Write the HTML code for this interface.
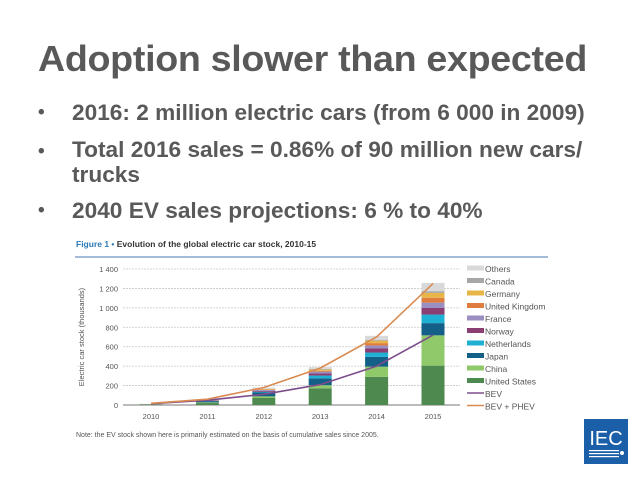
<!DOCTYPE html>
<html><head><meta charset="utf-8"><style>
body{margin:0;width:638px;height:479px;background:#fff;font-family:"Liberation Sans",sans-serif;position:relative;overflow:hidden}
.t{position:absolute;left:38px;top:38px;font-size:36px;font-weight:bold;color:#595959;letter-spacing:-0.3px;transform:scaleX(1.045);transform-origin:0 0;white-space:nowrap}
.b{position:absolute;left:38px;font-size:22px;font-weight:bold;color:#595959;white-space:nowrap}
.b span{position:absolute;left:0;font-size:19px;top:2px}
.b div{margin-left:34px;transform:scaleX(1.03);transform-origin:0 0}
</style></head><body>
<div class="t">Adoption slower than expected</div>
<div class="b" style="top:100px"><span>•</span><div>2016: 2 million electric cars (from 6 000 in 2009)</div></div>
<div class="b" style="top:137px;line-height:25px"><span>•</span><div>Total 2016 sales = 0.86% of 90 million new cars/<br>trucks</div></div>
<div class="b" style="top:198px"><span>•</span><div>2040 EV sales projections: 6 % to 40%</div></div>
<svg id="c" width="638" height="479" style="position:absolute;left:0;top:0"></svg>
<script>
const years=["2010","2011","2012","2013","2014","2015"];
const seriesNames=["United States","China","Japan","Netherlands","Norway","France","United Kingdom","Germany","Canada","Others"];
const colors=["#4e8a4f","#8fc96a","#135f87","#1fb1d4","#8a3e72","#9a8fc0","#de7d3d","#e8b547","#a7a7a7","#d9d9d9"];
const us=[4,20,72,172,290,405];
const china=[1,7,17,32,105,312];
const japan=[2,13,40,70,100,126];
const neth=[0,2,7,29,45,88];
const norway=[1,4,10,21,42,68];
const france=[1,3,10,20,30,55];
const uk=[0,1,3,8,25,50];
const germany=[1,2,6,13,25,50];
const canada=[0,1,2,5,10,18];
const others=[1,5,13,20,40,85];
const bev=[14,50,110,210,400,720];
const bevPhev=[17,60,180,380,700,1250];
const yTicks=[0,200,400,600,800,1000,1200,1400];
const yTickLabels=["0","200","400","600","800","1 000","1 200","1 400"];
const stacks=[us,china,japan,neth,norway,france,uk,germany,canada,others];
const svg=document.getElementById('c');const NS="http://www.w3.org/2000/svg";
function y(v){return 405-v*136/1400}
function x(i){return 151+i*56.4}
function mk(t,a,p){const e=document.createElementNS(NS,t);for(const k in a)e.setAttribute(k,a[k]);(p||svg).appendChild(e);return e}
let e=mk('text',{x:76,y:247,'font-size':8.5,'font-weight':'bold',fill:'#333'});e.innerHTML='<tspan fill="#2a7ab8">Figure 1 •</tspan> Evolution of the global electric car stock, 2010-15';

e=mk('line',{x1:75,x2:548,y1:257,y2:257,stroke:'#6f93c2','stroke-width':1.2});

yTicks.forEach((t,i)=>{
 if(t>0){e=mk('line',{x1:123,x2:460,y1:y(t),y2:y(t),stroke:'#c8c8c8','stroke-dasharray':'2,1','stroke-width':0.8});}
 e=mk('text',{x:118,y:y(t)+3,'font-size':7.5,'text-anchor':'end',fill:'#555'});e.textContent=yTickLabels[i];
 
});
e=mk('line',{x1:123,x2:460,y1:405,y2:405,stroke:'#777','stroke-width':1});
e=mk('text',{x:0,y:0,'font-size':7.5,fill:'#555','text-anchor':'middle',transform:'translate(84,337) rotate(-90)'});e.textContent='Electric car stock (thousands)';

years.forEach((yr,i)=>{
 let acc=0;
 stacks.forEach((s,k)=>{
  e=mk('rect',{x:x(i)-11.5,y:y(acc+s[i]),width:23,height:y(acc)-y(acc+s[i]),fill:colors[k]});
  
  acc+=s[i];
 });
 e=mk('text',{x:x(i),y:419,'font-size':7.5,'text-anchor':'middle',fill:'#555'});e.textContent=yr;
 
});
function line(d,c,n){let p=d.map((v,i)=>(i?'L':'M')+x(i)+','+y(v)).join('');
 e=mk('path',{d:p,fill:'none',stroke:c,'stroke-width':1.6});}
line(bev,'#7d4e8a','bev-line');line(bevPhev,'#d98b52','bev-phev-line');
const legendNames=seriesNames.slice().reverse();const legendColors=colors.slice().reverse();
legendNames.forEach((n,i)=>{const yy=269+i*12.5;
 e=mk('rect',{x:467,y:yy-3.5,width:17,height:5,fill:legendColors[i]});
 e=mk('text',{x:485,y:yy+3,'font-size':8.5,fill:'#555'});e.textContent=n;
});
[["BEV","#7d4e8a"],["BEV + PHEV","#d98b52"]].forEach((l,j)=>{const yy=269+(10+j)*12.5;
 e=mk('line',{x1:467,x2:484,y1:yy-1,y2:yy-1,stroke:l[1],'stroke-width':1.5});
 e=mk('text',{x:485,y:yy+3,'font-size':8.5,fill:'#555'});e.textContent=l[0];
});
e=mk('text',{x:76,y:437,'font-size':7,fill:'#555'});e.textContent='Note: the EV stock shown here is primarily estimated on the basis of cumulative sales since 2005.';

const g=mk('g',{});
mk('rect',{x:584,y:419,width:44,height:45,fill:'#1a5fa8'},g);
e=mk('text',{x:606,y:445,'font-size':20,fill:'#fff','text-anchor':'middle'},g);e.textContent='IEC';
for(let k=0;k<3;k++)mk('rect',{x:589,y:450+k*3,width:30,height:1.2,fill:'#fff'},g);
mk('circle',{cx:622,cy:453,r:2,fill:'#fff'},g);
</script>
</body></html>
